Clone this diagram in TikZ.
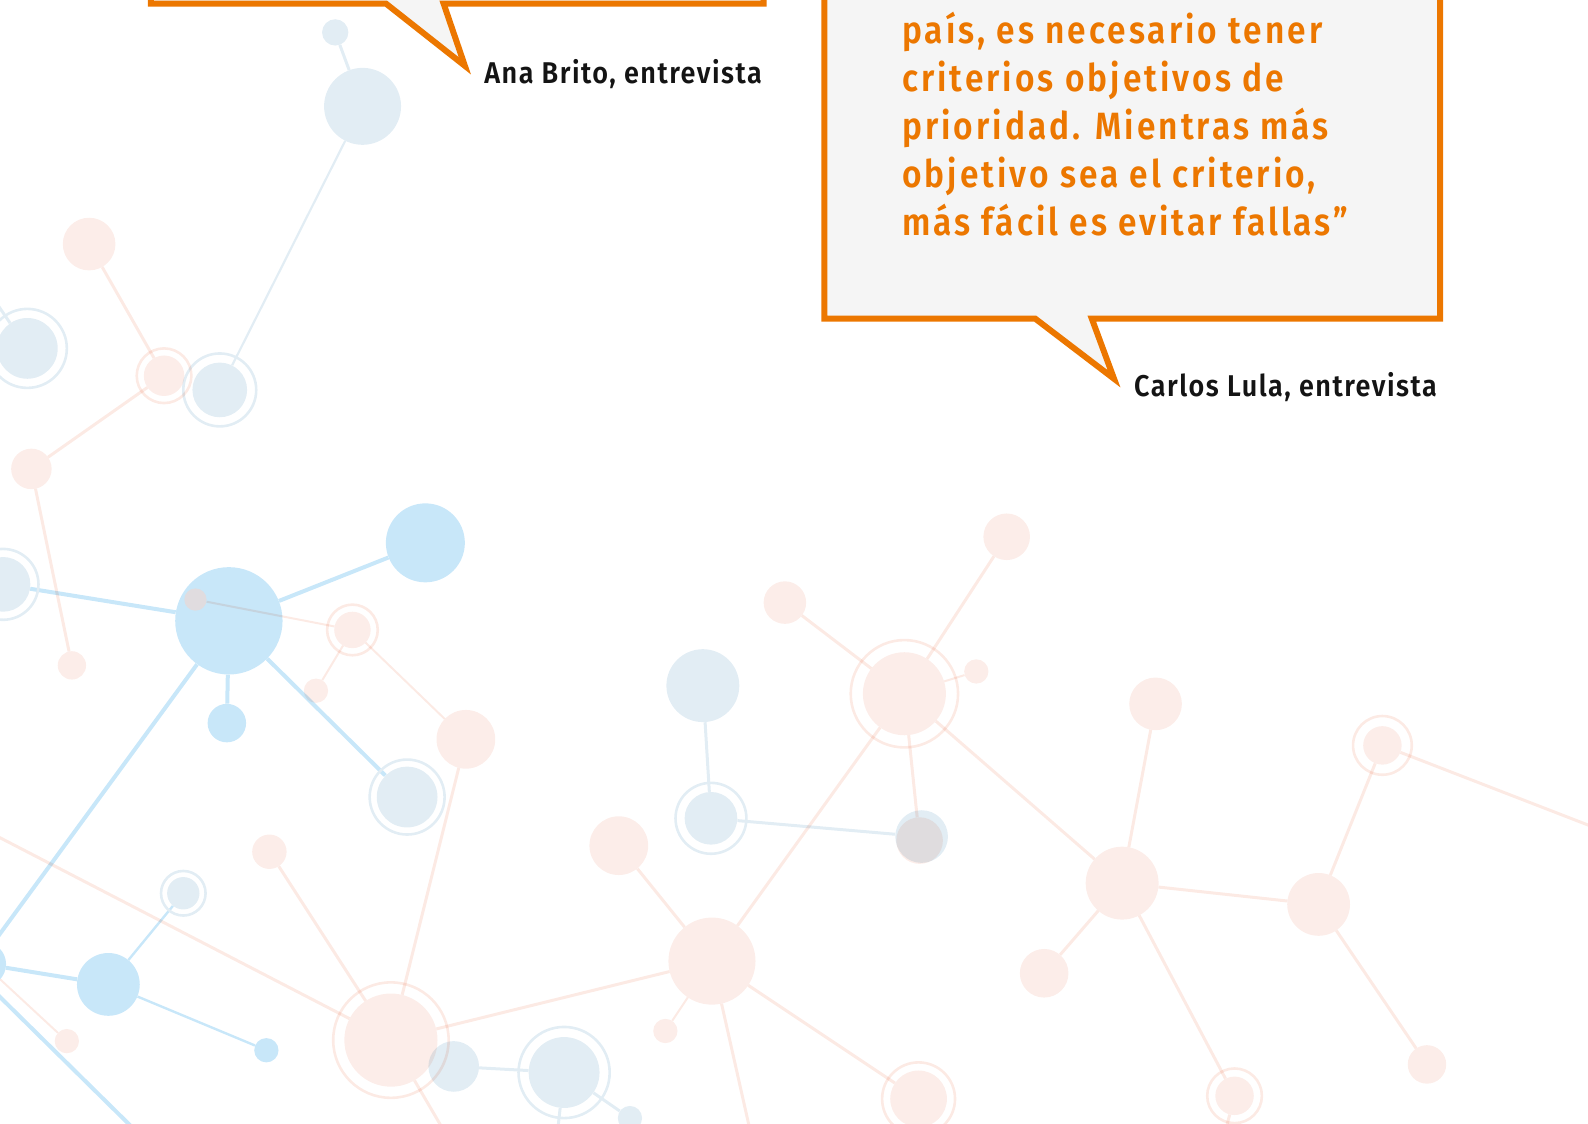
\documentclass[tikz,border=0pt]{standalone}
\usepackage{fontspec}
\newfontfamily\qfont{Fira Sans SemiBold}[FakeStretch=0.88, LetterSpace=8]
\newfontfamily\afont{Fira Sans SemiBold}[FakeStretch=0.9, LetterSpace=5]
\definecolor{qorange}{HTML}{EC7700}
\definecolor{bubfill}{HTML}{F5F5F5}
\definecolor{cBG}{HTML}{E2EDF4}
\definecolor{cSky}{HTML}{C8E7F9}
\definecolor{cPk}{HTML}{FCEDE9}
\definecolor{cPkL}{HTML}{FCEAE4}
\definecolor{cMix}{HTML}{E0DCDF}
\definecolor{atext}{HTML}{141414}
\pgfdeclarelayer{bluelines}
\pgfdeclarelayer{bluenodes}
\pgfdeclarelayer{pinklines}
\pgfdeclarelayer{pinknodes}
\pgfsetlayers{bluelines,bluenodes,pinklines,pinknodes,main}
\tikzset{
  R/.style={minimum size={2.0255*#1}},
  dot/.style={circle, inner sep=0pt, draw=none},
  bg/.style={dot, fill=cBG, R=#1},
  sky/.style={dot, fill=cSky, R=#1},
  pk/.style={dot, fill=cPk, R=#1},
  mix/.style={dot, fill=cMix, R=#1},
  bgline/.style={draw=cBG, line width=3pt},
  bgthin/.style={draw=cBG, line width=2.2pt},
  skyline/.style={draw=cSky, line width=4pt},
  skythin/.style={draw=cSky, line width=2.4pt},
  pkline/.style={draw=cPkL, line width=3pt},
  pkthin/.style={draw=cPkL, line width=2pt},
  bgring/.style={draw=cBG, line width=2.6pt},
  pkring/.style={draw=cPkL, line width=2.6pt},
  bubble/.style={draw=qorange, fill=bubfill, line width=6pt, line join=miter},
  quote/.style={inner sep=0pt, anchor=base west, text=qorange, font=\qfont\fontsize{38}{48}\selectfont},
  attrib/.style={inner sep=0pt, anchor=base east, text=atext, font=\afont\fontsize{30}{34}\selectfont},
}
\newcommand\halo[3]{\draw[#3] (#1.center) circle[radius={#2*1.0128pt}];}
\begin{document}
\begin{tikzpicture}[x=1.012755pt, y=-1.012755pt]
\useasboundingbox (0,0) rectangle (1568,1109);

% ---------------- blue nodes ----------------
\begin{pgfonlayer}{bluenodes}
\node[bg=13] (n1) at (331,32) {};
\node[bg=38] (n2) at (358,105) {};
\node[bg=27] (n3) at (217,385) {};
\node[bg=30] (n4) at (27,344) {};
\node[bg=27] (b5) at (3,577) {};
\node[bg=30] (b4) at (402,787) {};
\node[bg=16] (b8) at (181,882) {};
\node[bg=25] (b9) at (448,1053) {};
\node[bg=35] (b10) at (557,1059) {};
\node[bg=12] (b11) at (622,1104) {};
\node[bg=36] (b12) at (694,677) {};
\node[bg=26] (b13) at (702,808) {};
\node[bg=26] (b14) at (910,826) {};
\node[sky=53] (b1) at (226,613) {};
\node[sky=39] (b2) at (420,536) {};
\node[sky=19] (b3) at (224,714) {};
\node[sky=22] (bL) at (-16,952) {};
\node[sky=31] (b6) at (107,972) {};
\node[sky=12] (b7) at (263,1037) {};
\halo{n3}{36}{bgring}
\halo{n4}{39}{bgring}
\halo{b5}{35}{bgring}
\halo{b4}{37}{bgring}
\halo{b8}{22}{bgring}
\halo{b10}{45}{bgring}
\halo{b13}{35}{bgring}
\end{pgfonlayer}

% ---------------- blue connectors ----------------
\coordinate (offN) at (-20,275);
\coordinate (offS) at (-60,1004);
\coordinate (offL1) at (-40,945);
\coordinate (offL2) at (175,1157);
\coordinate (offB10) at (548,1140);
\begin{pgfonlayer}{bluelines}
\draw[bgline] (n1) -- (n2);
\draw[bgthin] (n2) -- (n3);
\draw[bgline] (n4) -- (offN);
\draw[skyline] (b5) -- (b1);
\draw[skyline] (b1) -- (b2);
\draw[skyline] (b1) -- (b3);
\draw[skyline] (b1) -- (b4);
\draw[skyline] (b1) -- (offS);
\draw[skyline] (bL) -- (b6);
\draw[skythin] (b6) -- (b7);
\draw[skythin] (b6) -- (b8);
\draw[skyline] (offL1) -- (offL2);
\draw[bgline] (b9) -- (b10);
\draw[bgline] (b10) -- (b11);
\draw[bgline] (b10) -- (offB10);
\draw[bgline] (b12) -- (b13);
\draw[bgline] (b13) -- (b14);
\end{pgfonlayer}

% ---------------- pink nodes ----------------
\begin{pgfonlayer}{pinknodes}
\node[mix=11] (pg1) at (193,592) {};
\begin{scope}[blend mode=multiply]
\node[pk=26] (p1) at (88,241) {};
\node[pk=20] (p2) at (162,371) {};
\node[pk=20] (p3) at (31,463) {};
\node[pk=14] (p4) at (71,657) {};
\node[pk=18] (p6) at (348,622) {};
\node[pk=12] (p7) at (312,682) {};
\node[pk=29] (p8) at (460,730) {};
\node[pk=17] (p9) at (266,841) {};
\node[pk=46] (pbig) at (386,1027) {};
\node[pk=12] (p5) at (66,1028) {};
\node[pk=29] (p10) at (611,835) {};
\node[pk=43] (pc) at (703,949) {};
\node[pk=12] (p11) at (657,1018) {};
\node[pk=28] (p12) at (907,1085) {};
\node[pk=41] (pd) at (893,685) {};
\node[pk=21] (p13) at (775,595) {};
\node[pk=23] (p14) at (994,530) {};
\node[pk=12] (p15) at (964,663) {};
\node[pk=23] (pg2) at (908,830) {};
\node[pk=36] (pe) at (1108,872) {};
\node[pk=26] (p16) at (1141,695) {};
\node[pk=24] (p17) at (1031,961) {};
\node[pk=19] (p18) at (1219,1082) {};
\node[pk=31] (pf) at (1302,893) {};
\node[pk=19] (p19) at (1365,736) {};
\node[pk=19] (p20) at (1409,1051) {};
\halo{p2}{27}{pkring}
\halo{p6}{25}{pkring}
\halo{pbig}{57}{pkring}
\halo{p12}{36}{pkring}
\halo{pd}{53}{pkring}
\halo{p18}{27}{pkring}
\halo{p19}{29}{pkring}
\end{scope}
\end{pgfonlayer}

% ---------------- pink connectors ----------------
\coordinate (offA) at (-10,822);
\coordinate (offB) at (452,1140);
\coordinate (offC) at (746,1140);
\coordinate (offD) at (1600,827);
\coordinate (offE) at (1204,1140);
\begin{pgfonlayer}{pinklines}
\begin{scope}[blend mode=multiply]
\draw[pkline] (p1) -- (p2);
\draw[pkline] (p2) -- (p3);
\draw[pkline] (p3) -- (p4);
\draw[pkthin] (pg1) -- (p6);
\draw[pkthin] (p6) -- (p7);
\draw[pkthin] (p6) -- (p8);
\draw[pkline] (p8) -- (pbig);
\draw[pkline] (p9) -- (pbig);
\draw[pkline] (offA) -- (pbig);
\draw[pkline] (pbig) -- (pc);
\draw[pkline] (pbig) -- (offB);
\draw[pkthin] (bL) -- (p5);
\draw[pkline] (pc) -- (p10);
\draw[pkthin] (pc) -- (p11);
\draw[pkline] (pc) -- (offC);
\draw[pkline] (pc) -- (p12);
\draw[pkline] (pc) -- (pd);
\draw[pkline] (pd) -- (p13);
\draw[pkline] (pd) -- (p14);
\draw[pkthin] (pd) -- (p15);
\draw[pkline] (pd) -- (pg2);
\draw[pkline] (pd) -- (pe);
\draw[pkline] (pe) -- (p16);
\draw[pkline] (pe) -- (p17);
\draw[pkline] (pe) -- (p18);
\draw[pkline] (pe) -- (pf);
\draw[pkline] (pf) -- (p19);
\draw[pkline] (pf) -- (p20);
\draw[pkline] (p19) -- (offD);
\draw[pkline] (p18) -- (offE);
\end{scope}
\end{pgfonlayer}

% ---------------- speech bubbles ----------------
\draw[bubble] (149,-30) -- (149,3.5) -- (381,3.5) -- (459,65) -- (438,3.5) -- (754,3.5) -- (754,-30) -- cycle;
\draw[bubble] (814,-30) -- (814,314.5) -- (1022,314.5) -- (1100,374) -- (1078,314.5) -- (1422,314.5) -- (1422,-30) -- cycle;

\node[quote] (q1) at (890.5,42.5) {país, es necesario tener};
\node[quote] (q2) at (890.5,90) {criterios objetivos de};
\node[quote] (q3) at (890.5,137.5) {prioridad. Mientras más};
\node[quote] (q4) at (890.5,185) {objetivo sea el criterio,};
\node[quote] (q5) at (890.5,232.5) {más fácil es evitar fallas”};

\node[attrib] (a1) at (752.5,82) {Ana Brito, entrevista};
\node[attrib] (a2) at (1419,391.5) {Carlos Lula, entrevista};
\end{tikzpicture}
\end{document}
